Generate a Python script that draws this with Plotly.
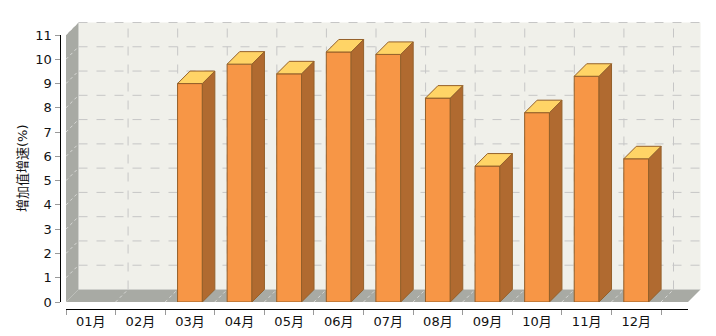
import plotly.graph_objects as go

# ---------------- data ----------------
categories = ["01月", "02月", "03月", "04月", "05月", "06月",
              "07月", "08月", "09月", "10月", "11月", "12月"]
growth = [None, None, 9.0, 9.8, 9.4, 10.3, 10.2, 8.4, 5.6, 7.8, 9.3, 5.9]
y_ticks = list(range(0, 12))
y_title = "增加值增速(%)"

# ---------------- layout constants (pixels) ----------------
W, H = 716, 336
X_LEFT, X_FRONT_RIGHT, X_BACK_RIGHT = 66, 688, 701
Y_ZERO, Y_TOP_AXIS, Y_BACK_TOP = 302, 35, 22
PX_PER_CAT = (661 - 66) / 12.0
PX_PER_UNIT = (Y_ZERO - Y_TOP_AXIS) / 11.0
DEPTH = 12.5
DX = DEPTH / PX_PER_CAT      # depth in category units
DY = DEPTH / PX_PER_UNIT     # depth in value units
BAR_W = 0.5
X_END = -0.5 + (X_FRONT_RIGHT - X_LEFT) / PX_PER_CAT
YMAX = 11

FRONT = "#F79646"
SIDE = "#B06A30"
TOP = "#FFD466"
EDGE = "#94602A"
WALL = "#A8AAA4"
BACKWALL = "#F0F0EA"
GRID = "#C6C6C6"

def px(x):
    return x / W

def py(y):
    return 1 - y / H

fig = go.Figure()

# ---------------- 3D scene: walls & grid as background shapes ----------------
shapes = []
x0 = -0.5
shapes.append(dict(type="rect", xref="x", yref="y", layer="below",
                   x0=x0 + DX, x1=X_END + DX, y0=DY, y1=YMAX + DY,
                   fillcolor=BACKWALL, line=dict(width=0)))
shapes.append(dict(type="path", xref="x", yref="y", layer="below",
                   path=f"M{x0},0 L{x0},{YMAX} L{x0+DX},{YMAX+DY} L{x0+DX},{DY} Z",
                   fillcolor=WALL, line=dict(width=0)))
shapes.append(dict(type="path", xref="x", yref="y", layer="below",
                   path=f"M{x0},0 L{X_END},0 L{X_END+DX},{DY} L{x0+DX},{DY} Z",
                   fillcolor=WALL, line=dict(width=0)))
for v in y_ticks[1:]:
    shapes.append(dict(type="line", xref="x", yref="y", layer="below",
                       x0=x0 + DX, x1=X_END + DX, y0=v + DY, y1=v + DY,
                       line=dict(color=GRID, width=1, dash="dash")))
    shapes.append(dict(type="line", xref="x", yref="y", layer="below",
                       x0=x0, x1=x0 + DX, y0=v, y1=v + DY,
                       line=dict(color="rgba(255,255,255,0.55)", width=1, dash="dot")))
for k in range(1, len(categories) + 1):
    b = k - 0.5
    shapes.append(dict(type="line", xref="x", yref="y", layer="below",
                       x0=b + DX, x1=b + DX, y0=DY, y1=YMAX + DY,
                       line=dict(color=GRID, width=1, dash="dash")))
    shapes.append(dict(type="line", xref="x", yref="y", layer="below",
                       x0=b, x1=b + DX, y0=0, y1=DY,
                       line=dict(color="rgba(255,255,255,0.55)", width=1, dash="dot")))

# ---------------- bars ----------------
idx = list(range(len(categories)))
fig.add_trace(go.Bar(x=idx, y=growth, width=BAR_W,
                     marker=dict(color=FRONT, line=dict(color=EDGE, width=1)),
                     hovertext=categories, hoverinfo="text+y", showlegend=False))

side_x, side_y, top_x, top_y = [], [], [], []
for i, v in enumerate(growth):
    if v is None:
        continue
    r = i + BAR_W / 2
    l = i - BAR_W / 2
    side_x += [r, r, r + DX, r + DX, r, None]
    side_y += [0, v, v + DY, DY, 0, None]
    top_x += [l, r, r + DX, l + DX, l, None]
    top_y += [v, v, v + DY, v + DY, v, None]

fig.add_trace(go.Scatter(x=side_x, y=side_y, mode="lines", fill="toself",
                         fillcolor=SIDE, line=dict(color=EDGE, width=1),
                         hoverinfo="skip", showlegend=False))
fig.add_trace(go.Scatter(x=top_x, y=top_y, mode="lines", fill="toself",
                         fillcolor=TOP, line=dict(color=EDGE, width=1),
                         hoverinfo="skip", showlegend=False))

# ---------------- visible axes (second, empty subplot) ----------------
fig.add_trace(go.Scatter(x=categories, y=[None] * len(categories),
                         xaxis="x2", yaxis="y2", mode="markers",
                         hoverinfo="skip", showlegend=False))

font = dict(family="DejaVu Sans, Noto Sans CJK SC", size=13, color="#111111")

fig.update_layout(
    width=W, height=H,
    margin=dict(l=0, r=0, t=0, b=0, pad=0, autoexpand=False),
    paper_bgcolor="white", plot_bgcolor="rgba(0,0,0,0)",
    font=font,
    shapes=shapes,
    xaxis=dict(domain=[px(X_LEFT), px(X_BACK_RIGHT)],
               range=[-0.5, -0.5 + (X_BACK_RIGHT - X_LEFT) / PX_PER_CAT],
               visible=False, fixedrange=True, automargin=False),
    yaxis=dict(domain=[py(Y_ZERO), py(Y_BACK_TOP)],
               range=[0, (Y_ZERO - Y_BACK_TOP) / PX_PER_UNIT],
               visible=False, fixedrange=True, automargin=False),
    xaxis2=dict(domain=[px(X_LEFT), px(X_FRONT_RIGHT)],
                anchor="free", position=py(309),
                type="category", categoryorder="array", categoryarray=categories,
                range=[-0.5, X_END], tickson="boundaries",
                showline=True, linecolor="#000000", linewidth=1,
                ticks="outside", ticklen=5, tickcolor="#999999",
                showgrid=False, zeroline=False, tickfont=font, fixedrange=True,
                automargin=False),
    yaxis2=dict(domain=[py(Y_ZERO), py(Y_TOP_AXIS)],
                anchor="free", position=px(59.5),
                range=[0, YMAX], tickmode="array", tickvals=y_ticks,
                ticktext=[str(t) for t in y_ticks],
                showline=True, linecolor="#000000", linewidth=1,
                ticks="outside", ticklen=5, tickcolor="#999999",
                showgrid=False, zeroline=False, tickfont=font, fixedrange=True,
                automargin=False),
    annotations=[dict(text=y_title, textangle=-90, showarrow=False,
                      xref="paper", yref="paper", x=px(22), y=py(168),
                      xanchor="center", yanchor="middle", font=font)],
)

fig.write_html("out.html")
